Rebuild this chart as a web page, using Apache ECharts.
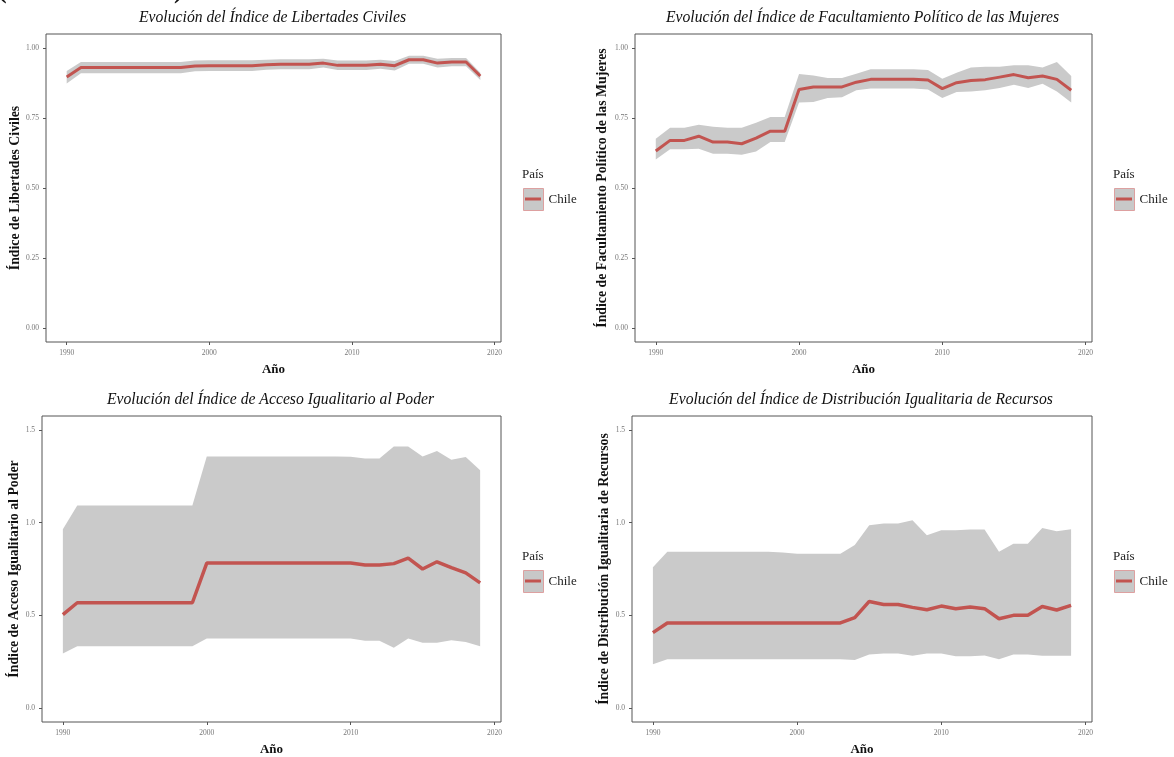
<!DOCTYPE html>
<html><head><meta charset="utf-8">
<script src="https://cdn.jsdelivr.net/npm/echarts@6/dist/echarts.min.js"></script>
<style>html,body{margin:0;padding:0;background:#fff}#c{width:1174px;height:757px}</style>
</head><body><div id="c"></div>
<script>
// ---------- data ----------
const years = [1990,1991,1992,1993,1994,1995,1996,1997,1998,1999,2000,2001,2002,2003,2004,2005,2006,2007,2008,2009,2010,2011,2012,2013,2014,2015,2016,2017,2018,2019];
const xTicks = [1990, 2000, 2010, 2020];
const yTicksTop = [0, 0.25, 0.5, 0.75, 1];
const yTicksBottom = [0, 0.5, 1, 1.5];

const civLine  = [0.896,0.93,0.93,0.93,0.93,0.93,0.93,0.93,0.93,0.936,0.937,0.937,0.937,0.937,0.94,0.942,0.942,0.942,0.946,0.938,0.938,0.938,0.942,0.937,0.958,0.958,0.946,0.95,0.95,0.9];
const civUpper = [0.918,0.95,0.95,0.95,0.95,0.95,0.95,0.95,0.95,0.955,0.956,0.956,0.956,0.956,0.958,0.96,0.96,0.96,0.962,0.955,0.955,0.955,0.958,0.954,0.972,0.972,0.962,0.964,0.964,0.912];
const civLower = [0.873,0.91,0.91,0.91,0.91,0.91,0.91,0.91,0.91,0.917,0.918,0.918,0.918,0.918,0.922,0.924,0.924,0.924,0.93,0.921,0.921,0.921,0.926,0.92,0.944,0.944,0.93,0.935,0.935,0.886];

const facLine  = [0.632,0.670,0.670,0.685,0.664,0.664,0.658,0.678,0.703,0.703,0.852,0.861,0.861,0.861,0.878,0.888,0.888,0.888,0.888,0.886,0.855,0.876,0.884,0.887,0.896,0.905,0.894,0.9,0.888,0.849];
const facUpper = [0.676,0.715,0.715,0.726,0.719,0.715,0.715,0.733,0.754,0.754,0.907,0.902,0.893,0.893,0.908,0.924,0.924,0.924,0.924,0.921,0.89,0.912,0.93,0.933,0.933,0.938,0.938,0.93,0.95,0.9];
const facLower = [0.602,0.638,0.638,0.64,0.622,0.622,0.619,0.63,0.664,0.664,0.805,0.807,0.821,0.824,0.849,0.855,0.855,0.855,0.855,0.852,0.821,0.843,0.845,0.849,0.857,0.869,0.857,0.872,0.845,0.805];

const accLine  = [0.504,0.568,0.568,0.568,0.568,0.568,0.568,0.568,0.568,0.568,0.782,0.782,0.782,0.782,0.782,0.782,0.782,0.782,0.782,0.782,0.782,0.771,0.771,0.779,0.809,0.75,0.789,0.757,0.729,0.675];
const accUpper = [0.964,1.093,1.093,1.093,1.093,1.093,1.093,1.093,1.093,1.093,1.357,1.357,1.357,1.357,1.357,1.357,1.357,1.357,1.357,1.357,1.355,1.346,1.346,1.411,1.411,1.357,1.386,1.339,1.354,1.282];
const accLower = [0.295,0.334,0.334,0.334,0.334,0.334,0.334,0.334,0.334,0.334,0.375,0.375,0.375,0.375,0.375,0.375,0.375,0.375,0.375,0.375,0.375,0.3625,0.3625,0.325,0.375,0.352,0.352,0.366,0.357,0.334];

const disLine  = [0.407,0.459,0.459,0.459,0.459,0.459,0.459,0.459,0.459,0.459,0.459,0.459,0.459,0.459,0.4875,0.575,0.559,0.559,0.543,0.53,0.55,0.536,0.545,0.536,0.482,0.5,0.5,0.548,0.529,0.554];
const disUpper = [0.759,0.843,0.843,0.843,0.843,0.843,0.843,0.843,0.843,0.839,0.832,0.832,0.832,0.832,0.88,0.986,0.995,0.995,1.0125,0.932,0.959,0.959,0.9625,0.9625,0.843,0.886,0.886,0.971,0.954,0.964];
const disLower = [0.236,0.264,0.264,0.264,0.264,0.264,0.264,0.264,0.264,0.264,0.264,0.264,0.264,0.264,0.259,0.289,0.295,0.295,0.282,0.295,0.295,0.279,0.279,0.284,0.264,0.289,0.289,0.282,0.282,0.282];

const titles = ['Evolución del Índice de Libertades Civiles','Evolución del Índice de Facultamiento Político de las Mujeres','Evolución del Índice de Acceso Igualitario al Poder','Evolución del Índice de Distribución Igualitaria de Recursos'];
const yNames = ['Índice de Libertades Civiles','Índice de Facultamiento Político de las Mujeres','Índice de Acceso Igualitario al Poder','Índice de Distribución Igualitaria de Recursos'];
const xName = 'Año';
const legendTitle = 'País';
const country = 'Chile';

// ---------- layout / style ----------
const SERIF = '"Liberation Serif", "DejaVu Serif", serif';
const RED = '#c25450';
const BAND = '#cacaca';
const grids = [
  {left:46, top:34, width:455, height:308},
  {left:635, top:34, width:457, height:308},
  {left:42, top:416, width:459, height:307},
  {left:632, top:416, width:460, height:307}
];
const panels = [
  {line:civLine, up:civUpper, lo:civLower, yMin:-0.05, yMax:1.05, ticks:yTicksTop, dec:2, lw:3},
  {line:facLine, up:facUpper, lo:facLower, yMin:-0.05, yMax:1.05, ticks:yTicksTop, dec:2, lw:3},
  {line:accLine, up:accUpper, lo:accLower, yMin:-0.075, yMax:1.575, ticks:yTicksBottom, dec:1, lw:3.5},
  {line:disLine, up:disUpper, lo:disLower, yMin:-0.075, yMax:1.575, ticks:yTicksBottom, dec:1, lw:3.5}
];

const xAxis = [], yAxis = [], series = [], legend = [], graphic = [];
panels.forEach((p, i) => {
  const g = grids[i];
  xAxis.push({
    type:'value', gridIndex:i, min:1988.55, max:2020.45,
    axisLine:{show:false, onZero:false}, splitLine:{show:false},
    axisTick:{show:true, length:3, customValues:xTicks, lineStyle:{color:'#555'}},
    axisLabel:{customValues:xTicks, margin:7, fontSize:7.5, color:'#777', fontFamily:SERIF,
               formatter:(v)=>String(Math.round(v))},
    name:xName, nameLocation:'middle', nameGap:21,
    nameTextStyle:{fontFamily:SERIF, fontWeight:'bold', fontSize:13, color:'#111'}
  });
  yAxis.push({
    type:'value', gridIndex:i, min:p.yMin, max:p.yMax,
    axisLine:{show:false, onZero:false}, splitLine:{show:false},
    axisTick:{show:true, length:3, customValues:p.ticks, lineStyle:{color:'#555'}},
    axisLabel:{customValues:p.ticks, margin:7, fontSize:7.5, color:'#777', fontFamily:SERIF,
               formatter:(v)=>Number(v).toFixed(p.dec)},
    name:yNames[i], nameLocation:'middle', nameGap:[24,26,20,20][i],
    nameTextStyle:{fontFamily:SERIF, fontWeight:'bold', fontSize:13.8, color:'#111'}
  });
  const bandData = years.map((y, k) => [y, p.lo[k], p.up[k]]);
  series.push({
    type:'custom', name:'band'+i, xAxisIndex:i, yAxisIndex:i, silent:true, z:1,
    data:bandData, encode:{x:0, y:[1,2]},
    renderItem:function(params, api){
      if (params.dataIndex !== 0) return null;
      const pts = [];
      for (let k = 0; k < bandData.length; k++) pts.push(api.coord([bandData[k][0], bandData[k][2]]));
      for (let k = bandData.length - 1; k >= 0; k--) pts.push(api.coord([bandData[k][0], bandData[k][1]]));
      return {type:'polygon', shape:{points:pts}, style:{fill:BAND}};
    }
  });
  series.push({
    type:'line', name:country, xAxisIndex:i, yAxisIndex:i, z:3, silent:true,
    data:years.map((y, k) => [y, p.line[k]]), symbol:'none',
    lineStyle:{color:RED, width:p.lw}, itemStyle:{color:RED}
  });
  const lx = g.left + g.width + 22;
  const ly = i < 2 ? 188 : 570;
  legend.push({
    data:[country], left:lx, top:ly, orient:'vertical', icon:'rect', padding:0,
    itemWidth:20, itemHeight:22, selectedMode:false,
    itemStyle:{color:'#c8c8c8', borderColor:'#dda0a0', borderWidth:1},
    textStyle:{fontFamily:SERIF, fontSize:13, color:'#222'}
  });
  graphic.push({type:'line', z:100, shape:{x1:lx+2, y1:ly+11, x2:lx+18, y2:ly+11}, style:{stroke:RED, lineWidth:3}});
  graphic.push({type:'text', x:lx-1, y:ly-13, style:{text:legendTitle, font:'13px '+SERIF, fill:'#222', align:'left', verticalAlign:'middle'}});
  graphic.push({type:'text', x:g.left + g.width/2 - 1, y:(i < 2 ? 18 : 400),
    style:{text:titles[i], font:'italic 15.7px '+SERIF, fill:'#111', align:'center', verticalAlign:'middle'}});
});
// cut-off fragments of text above the figure
graphic.push({type:'text', x:-2, y:-22, style:{text:'(', font:'bold 26px '+SERIF, fill:'#111'}});
graphic.push({type:'text', x:174, y:-22, style:{text:')', font:'bold 26px '+SERIF, fill:'#111'}});

const chart = echarts.init(document.getElementById('c'), null, {renderer:'canvas'});
chart.setOption({
  animation:false,
  backgroundColor:'#fff',
  grid: grids.map(g => Object.assign({show:true, borderColor:'#555', borderWidth:1, backgroundColor:'transparent'}, g)),
  xAxis, yAxis, series, legend, graphic
});
</script></body></html>
